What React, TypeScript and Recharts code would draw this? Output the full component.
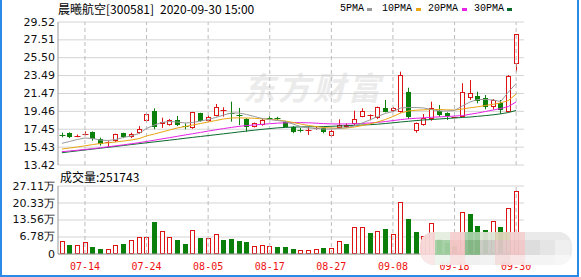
import React from 'react';
import { ComposedChart, Bar, Line, XAxis, YAxis, CartesianGrid, ReferenceLine } from 'recharts';

const dates = ['07-09','07-10','07-13','07-14','07-15','07-16','07-17','07-20','07-21','07-22','07-23','07-24','07-27','07-28','07-29','07-30','07-31','08-03','08-04','08-05','08-06','08-07','08-10','08-11','08-12','08-13','08-14','08-17','08-18','08-19','08-20','08-21','08-24','08-25','08-26','08-27','08-28','08-31','09-01','09-02','09-03','09-04','09-07','09-08','09-09','09-10','09-11','09-14','09-15','09-16','09-17','09-18','09-21','09-22','09-23','09-24','09-25','09-28','09-29','09-30'];

const opens = [16.82,16.99,16.65,16.85,17.14,16.31,15.86,16.16,16.99,16.54,16.99,18.41,19.53,18.00,17.92,18.49,17.82,17.55,19.24,18.41,18.97,19.55,19.32,19.08,18.56,17.73,17.92,18.76,18.72,18.30,17.66,17.38,17.30,17.50,17.60,16.72,17.55,17.66,18.00,18.86,19.05,18.68,19.80,19.50,19.42,21.67,17.28,17.92,18.56,19.53,19.30,18.75,18.86,20.93,21.18,21.00,19.92,20.37,19.42,24.79];
const highs = [17.06,17.10,16.85,17.20,17.20,16.50,16.10,16.95,17.05,17.06,17.80,19.20,19.80,18.75,18.60,18.94,18.11,19.40,19.30,19.00,20.29,19.92,20.55,19.84,18.70,18.20,18.60,18.90,18.85,18.40,17.80,17.60,17.70,17.70,17.65,17.35,18.56,18.10,19.53,19.80,19.12,20.00,20.74,19.95,23.93,22.12,18.20,19.16,20.55,20.17,19.35,18.85,22.62,22.99,21.67,21.30,20.85,20.74,23.55,28.13];
const lows = [16.54,16.45,16.55,16.75,16.16,15.60,15.48,16.01,16.45,16.45,16.90,18.35,17.45,17.60,17.85,17.80,17.44,17.50,18.30,18.30,18.90,18.86,18.30,17.92,17.17,17.65,17.85,18.55,18.50,17.70,17.00,17.10,16.80,17.40,17.00,16.54,17.50,17.60,17.90,18.80,18.45,18.60,19.35,19.40,19.30,18.60,17.06,17.85,18.40,18.86,18.49,18.70,18.80,20.75,20.37,19.69,19.69,19.17,19.35,23.93];
const closes = [16.78,16.54,16.72,16.92,16.31,15.75,16.04,16.88,16.54,16.88,17.44,19.16,17.66,18.30,18.49,17.92,17.75,19.35,18.41,18.79,19.98,19.62,19.25,19.02,17.73,18.11,18.49,18.72,18.66,17.75,17.10,17.33,17.38,17.56,17.10,17.28,17.92,17.92,18.56,19.50,19.10,19.98,19.42,19.87,23.55,18.86,18.11,18.68,19.80,19.05,18.94,18.80,21.67,21.56,20.66,19.92,20.74,19.61,23.44,28.13];

const ma5 = [15.86,16.07,16.29,16.46,16.40,16.23,16.18,16.29,16.52,16.69,16.97,17.53,17.92,18.21,18.32,18.26,18.15,18.21,18.37,18.54,18.77,19.05,19.27,19.27,19.11,18.88,18.66,18.54,18.43,18.32,18.04,17.75,17.59,17.53,17.47,17.47,17.53,17.64,17.81,18.15,18.49,18.88,19.22,19.44,19.84,19.89,19.89,19.84,19.67,19.50,19.50,19.56,20.06,20.51,20.79,20.79,20.74,20.57,21.64,22.60];
const ma10 = [15.22,15.33,15.45,15.58,15.72,15.84,15.92,16.01,16.12,16.23,16.39,16.69,16.91,17.14,17.36,17.59,17.75,17.92,18.09,18.26,18.43,18.60,18.71,18.73,18.71,18.68,18.62,18.56,18.49,18.37,18.21,18.04,17.87,17.75,17.64,17.59,17.55,17.59,17.70,17.87,18.04,18.26,18.54,18.88,19.27,19.50,19.59,19.63,19.67,19.67,19.63,19.61,19.72,19.86,19.97,20.12,20.25,20.42,20.68,21.41];
const ma20 = [14.92,15.00,15.08,15.17,15.26,15.36,15.47,15.58,15.69,15.81,15.93,16.07,16.21,16.36,16.50,16.65,16.80,16.94,17.09,17.24,17.38,17.52,17.65,17.77,17.86,17.93,18.00,18.07,18.13,18.17,18.19,18.19,18.17,18.13,18.08,18.05,18.04,18.04,18.06,18.10,18.15,18.22,18.31,18.42,18.53,18.62,18.68,18.73,18.79,18.84,18.88,18.93,18.98,19.13,19.27,19.44,19.61,19.78,20.01,20.51];
const ma30 = [14.80,14.91,15.01,15.11,15.21,15.31,15.41,15.51,15.62,15.72,15.82,15.92,16.02,16.12,16.22,16.32,16.43,16.53,16.63,16.73,16.83,16.93,17.03,17.14,17.24,17.34,17.43,17.52,17.60,17.65,17.69,17.71,17.72,17.73,17.75,17.78,17.81,17.84,17.89,17.92,17.96,18.01,18.09,18.17,18.26,18.34,18.42,18.49,18.54,18.60,18.66,18.71,18.77,18.82,18.90,18.98,19.07,19.18,19.33,19.56];

const volumes = [51600,35700,35700,47600,27800,19800,19800,34500,39700,55600,66300,66300,128200,91300,66300,55600,39700,95300,63500,62300,78200,55600,59500,51600,48800,31800,35700,31800,27800,27800,18700,15900,15900,18700,22600,22600,51600,39700,106000,106000,84500,91300,99200,79400,209200,138900,88500,71400,121800,60000,45000,30000,165500,158800,111100,95300,129800,106000,185300,251743];
const volUp = [1,0,1,1,0,0,1,1,0,1, 1,1,0,1,1,0,0,1,0,1, 1,0,0,0,0,1,1,1,0,0, 0,1,1,1,0,1,1,0,1,1, 0,1,0,1,1,0,0,1,1,0, 0,0,1,0,0,0,1,0,1,1];

const priceTicks = [13.42, 15.43, 17.45, 19.46, 21.47, 23.49, 25.50, 27.51, 29.52];
const volTicks = [0, 67800, 135600, 203300, 271100];
const labelDates = ['07-14','07-24','08-05','08-17','08-27','09-08','09-18','09-30'];
const lastVolume = 251743;

const data = dates.map((date, i) => ({
  date,
  open: opens[i], high: highs[i], low: lows[i], close: closes[i],
  ma5: ma5[i], ma10: ma10[i], ma20: ma20[i], ma30: ma30[i],
  volume: volumes[i], volUp: volUp[i],
}));

const RED = '#dc1414';
const GREEN = '#0a7f0a';
const FRAME = '#9a9a9a';
const GRID = '#d4d4d4';
const DASH = '#bcbcbc';
const AXIS_FONT = "'DejaVu Sans', sans-serif";
const MONO = "'Liberation Mono', monospace";
const MONO2 = "'DejaVu Sans Mono', monospace";
const CJK = "'Noto Sans CJK SC', sans-serif";

const Candle = (props: any) => {
  const { x, y, width, height, payload } = props;
  if (!payload || x == null) return null;
  const { open, close, high, low } = payload;
  const top0 = Math.min(y, y + height);
  const span = Math.abs(height);
  const ratio = span / (high - low);
  const up = close >= open;
  const color = up ? RED : GREEN;
  const cx = Math.floor(x + width / 2) + 0.5;
  const yO = top0 + (high - open) * ratio;
  const yC = top0 + (high - close) * ratio;
  const bt = Math.round(Math.min(yO, yC));
  const bb = Math.round(Math.max(yO, yC));
  const yH = top0;
  const yL = top0 + span;
  if (bb - bt < 1.5) {
    return (
      <g>
        <line x1={cx} x2={cx} y1={yH} y2={yL} stroke={color} strokeWidth={1} />
        <line x1={cx - 3} x2={cx + 3} y1={bt + 0.5} y2={bt + 0.5} stroke={color} strokeWidth={1} />
      </g>
    );
  }
  return (
    <g>
      <line x1={cx} x2={cx} y1={yH} y2={bt} stroke={color} strokeWidth={1} />
      <line x1={cx} x2={cx} y1={bb} y2={yL} stroke={color} strokeWidth={1} />
      {up ? (
        <rect x={cx - 2} y={bt + 0.5} width={4} height={bb - bt - 1} fill="#fff" stroke={color} strokeWidth={1} />
      ) : (
        <rect x={cx - 2.5} y={bt} width={5} height={bb - bt} fill={color} />
      )}
    </g>
  );
};

const VolBar = (props: any) => {
  const { x, y, width, height, payload } = props;
  if (!payload || x == null) return null;
  const top = Math.round(Math.min(y, y + height));
  const bottom = Math.round(Math.max(y, y + height));
  const cx = Math.floor(x + width / 2) + 0.5;
  if (payload.volUp) {
    return <rect x={cx - 2} y={top + 0.5} width={4} height={Math.max(bottom - top - 1, 0)} fill="#fff" stroke={RED} strokeWidth={1} />;
  }
  return <rect x={cx - 2.5} y={top} width={5} height={bottom - top} fill={GREEN} />;
};

const PriceTick = (props: any) => {
  const { x, y, payload } = props;
  return (
    <text x={x} y={y} textAnchor="end" dominantBaseline="central" fontSize={11} fontFamily={AXIS_FONT} fill="#111">
      {Number(payload.value).toFixed(2)}
    </text>
  );
};

const VolTick = (props: any) => {
  const { x, y, payload } = props;
  const v = Number(payload.value);
  const label = v === 0 ? '0' : (v / 10000).toFixed(2) + '万';
  return (
    <text x={x} y={y} textAnchor="end" dominantBaseline="central" fontSize={11} fontFamily={AXIS_FONT} fill="#111">
      {label}
    </text>
  );
};

const DateTick = (props: any) => {
  const { x, y, payload } = props;
  return (
    <g>
      <text x={x} y={y + 12} textAnchor="middle" dominantBaseline="central" fontSize={10} fontFamily={MONO2} fill="#ee1111" stroke="none" style={{ fill: '#ee1111' }}>
        {payload.value}
      </text>
    </g>
  );
};

const rangeKey = (d: any) => [d.low, d.high];

const legendItems = [
  { label: '5PMA', color: '#9a9a9a', tx: 340, rx: 367 },
  { label: '10PMA', color: '#eaa615', tx: 382, rx: 416 },
  { label: '20PMA', color: '#e622e6', tx: 428, rx: 462 },
  { label: '30PMA', color: '#0b6b2e', tx: 474, rx: 507 },
];

const blurCells = [
  ['#f6d6d6', '#e4eedf', '#f6cfcf', '#a9d0a9', '#dfe6d6', '#dcd4b8', '#f4d0d0', 'transparent', 'transparent', 'transparent'],
  ['#f8d8d8', '#a3d0a3', '#f3c4c4', '#8cbb8c', '#c9cbc4', '#e3c7c7', '#f0c8c8', '#dcdcdc', '#e4e4e4', '#efefef'],
  ['#fae6e6', '#eef4ee', '#f8e0e0', '#f0f0f0', '#f2f2f2', '#f4dcdc', '#f8e4e4', '#f4f4f4', '#f4f4f4', '#f7f7f7'],
];

export default function App() {
  const padding = { left: 0, right: 4 };
  return (
    <div style={{ position: 'absolute', left: 0, top: 0, width: 581, height: 277, background: '#fff', overflow: 'hidden' }}>
      <div style={{ position: 'absolute', left: 243, top: 66, fontSize: 32, fontWeight: 'bold', fontStyle: 'italic', letterSpacing: 3, color: '#ebebeb', fontFamily: CJK, whiteSpace: 'nowrap', lineHeight: '40px' }}>
        东方财富
      </div>

      <div style={{ position: 'absolute', left: 58, top: 0, fontSize: 12, lineHeight: '18px', fontFamily: CJK, color: '#000', whiteSpace: 'nowrap' }}>晨曦航空[300581]</div>
      <div style={{ position: 'absolute', left: 160, top: 0, fontSize: 12, lineHeight: '18px', fontFamily: CJK, color: '#000', whiteSpace: 'nowrap' }}>2020-09-30 15:00</div>

      {legendItems.map((it) => (
        <React.Fragment key={it.label}>
          <div style={{ position: 'absolute', left: it.tx, top: 0, fontSize: 10, lineHeight: '18px', fontFamily: MONO, color: '#000', whiteSpace: 'nowrap' }}>{it.label}</div>
          <div style={{ position: 'absolute', left: it.rx, top: 8, width: 5, height: 3, background: it.color }} />
        </React.Fragment>
      ))}

      <div style={{ position: 'absolute', left: 0, top: 0 }}>
        <ComposedChart width={581} height={170} data={data} margin={{ top: 22, right: 57, bottom: 5, left: 8 }}>
          <CartesianGrid vertical={false} stroke={GRID} />
          <XAxis dataKey="date" height={0} tick={false} tickLine={false} axisLine={{ stroke: FRAME }} padding={padding} />
          <XAxis xAxisId="top" orientation="top" dataKey="date" height={0} tick={false} tickLine={false} axisLine={{ stroke: FRAME }} padding={padding} />
          <YAxis domain={[13.42, 29.52]} ticks={priceTicks} interval={0} width={50} tickLine={false} tickSize={0} tickMargin={3} axisLine={{ stroke: FRAME }} tick={PriceTick} allowDataOverflow />
          <YAxis yAxisId="r" orientation="right" domain={[0, 1]} width={0} tick={false} tickLine={false} axisLine={{ stroke: FRAME }} />
          {labelDates.map((d) => (
            <ReferenceLine key={d} x={d} stroke={DASH} strokeDasharray="4 3" />
          ))}
          <Bar dataKey={rangeKey} barSize={6} shape={Candle} isAnimationActive={false} />
          <Line dataKey="ma30" stroke="#0b6b2e" strokeWidth={1} dot={false} isAnimationActive={false} />
          <Line dataKey="ma20" stroke="#e622e6" strokeWidth={1} dot={false} isAnimationActive={false} />
          <Line dataKey="ma10" stroke="#eaa615" strokeWidth={1} dot={false} isAnimationActive={false} />
          <Line dataKey="ma5" stroke="#9a9a9a" strokeWidth={1} dot={false} isAnimationActive={false} />
        </ComposedChart>
      </div>

      <div style={{ position: 'absolute', left: 60, top: 168, fontSize: 12, lineHeight: '18px', fontFamily: CJK, color: '#000', whiteSpace: 'nowrap' }}>
        成交量:{lastVolume}
      </div>

      <div style={{ position: 'absolute', left: 0, top: 170 }}>
        <ComposedChart width={581} height={107} data={data} margin={{ top: 16, right: 57, bottom: 0, left: 8 }}>
          <CartesianGrid vertical={false} stroke={GRID} />
          <XAxis dataKey="date" height={23} ticks={labelDates} interval={0} tickLine={false} tickSize={0} tickMargin={0} axisLine={{ stroke: FRAME }} padding={padding} tick={DateTick} />
          <XAxis xAxisId="top" orientation="top" dataKey="date" height={0} tick={false} tickLine={false} axisLine={{ stroke: FRAME }} padding={padding} />
          <YAxis domain={[0, 271100]} ticks={volTicks} interval={0} width={50} tickLine={false} tickSize={0} tickMargin={3} axisLine={{ stroke: FRAME }} tick={VolTick} allowDataOverflow />
          <YAxis yAxisId="r" orientation="right" domain={[0, 1]} width={0} tick={false} tickLine={false} axisLine={{ stroke: FRAME }} />
          {labelDates.map((d) => (
            <ReferenceLine key={d} x={d} stroke={DASH} strokeDasharray="4 3" />
          ))}
          <Bar dataKey="volume" barSize={6} shape={VolBar} isAnimationActive={false} />
        </ComposedChart>
      </div>

      <div style={{ position: 'absolute', left: 420, top: 232, width: 152, height: 33, borderRadius: 14, overflow: 'hidden', background: '#ececec', opacity: 0.95 }}>
        {blurCells.map((row, r) => (
          <div key={r} style={{ display: 'flex', height: r === 1 ? 15 : r === 0 ? 8 : 10 }}>
            {row.map((c, k) => (
              <div key={k} style={{ width: 15, height: '100%', background: c === 'transparent' ? '#e9e9e9' : c }} />
            ))}
          </div>
        ))}
      </div>

      <div style={{ position: 'absolute', left: 0, top: -2, width: 579, height: 279, boxSizing: 'border-box', borderLeft: '2px solid #2b8ae8', borderRight: '2px solid #2b8ae8', borderBottom: '2px solid #2b8ae8' }} />
    </div>
  );
}
